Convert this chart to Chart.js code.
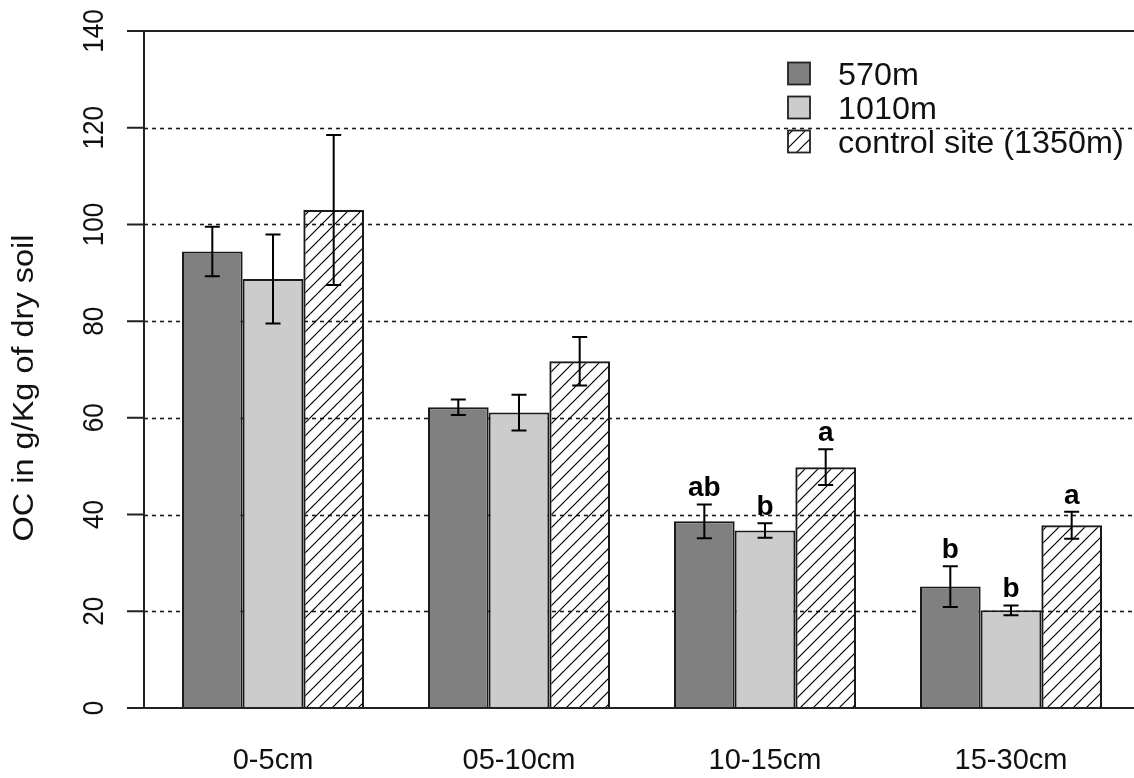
<!DOCTYPE html>
<html>
<head>
<meta charset="utf-8">
<script src="https://cdn.jsdelivr.net/npm/chart.js@4/dist/chart.umd.min.js"></script>
<style>
  html, body { margin: 0; padding: 0; background: #fff; }
  #wrap { width: 1134px; height: 778px; }
</style>
</head>
<body>
<div id="wrap"><canvas id="ocChart" width="1134" height="778"></canvas></div>
<script>
const categories = ["0-5cm", "05-10cm", "10-15cm", "15-30cm"];
const seriesNames = ["570m", "1010m", "control site (1350m)"];
const oc570 = [94.4, 62.2, 38.6, 25.1];
const err570 = [5.1, 1.6, 3.5, 4.2];
const oc1010 = [88.7, 61.1, 36.7, 20.2];
const err1010 = [9.2, 3.7, 1.5, 1.0];
const ocControl = [103.0, 71.7, 49.8, 37.8];
const errControl = [15.5, 5.0, 3.7, 2.8];
const letters570 = ["", "", "ab", "b"];
const letters1010 = ["", "", "b", "b"];
const lettersControl = ["", "", "a", "a"];
const yTicks = [0, 20, 40, 60, 80, 100, 120, 140];

const FONT = "'Liberation Sans', Arial, sans-serif";
const ink = "#111";

function makeHatch() {
  const size = 13;
  const c = document.createElement("canvas");
  c.width = size;
  c.height = size;
  const g = c.getContext("2d");
  g.strokeStyle = "#000";
  g.lineWidth = 1.2;
  g.beginPath();
  g.moveTo(-size, size * 2); g.lineTo(size * 2, -size);
  g.moveTo(-size, size); g.lineTo(size, -size);
  g.moveTo(0, size * 2); g.lineTo(size * 2, 0);
  g.stroke();
  return g.createPattern(c, "repeat");
}
const hatch = makeHatch();

// text with a stretch along its direction (the source image is not square-scaled)
function stretchText(ctx, text, x, y, angle, stretch) {
  ctx.save();
  ctx.translate(x, y);
  ctx.rotate(angle);
  ctx.scale(stretch, 1);
  ctx.fillText(text, 0, 0);
  ctx.restore();
}

// dotted grid, axis line, ticks and rotated labels (R base style)
const axesPlugin = {
  id: "rAxes",
  beforeDatasetsDraw(chart) {
    const ctx = chart.ctx;
    const y = chart.scales.y;
    const axisX = 144;
    ctx.save();
    ctx.strokeStyle = "#1a1a1a";
    ctx.lineWidth = 1.6;
    ctx.setLineDash([4, 4]);
    y.ticks.forEach((t) => {
      if (t.value === 0 || t.value === 140) return;
      const py = Math.round(y.getPixelForValue(t.value)) + 0.5;
      ctx.beginPath();
      ctx.moveTo(axisX, py);
      ctx.lineTo(chart.width, py);
      ctx.stroke();
    });
    ctx.restore();
  },
  afterDatasetsDraw(chart) {
    const ctx = chart.ctx;
    const y = chart.scales.y;
    const axisX = 144;
    ctx.save();
    ctx.strokeStyle = "#222";
    ctx.lineWidth = 2;
    const top = y.getPixelForValue(140);
    const bottom = y.getPixelForValue(0);
    ctx.beginPath();
    ctx.moveTo(axisX, top);
    ctx.lineTo(axisX, bottom);
    ctx.moveTo(127, top);
    ctx.lineTo(chart.width, top);
    ctx.moveTo(127, bottom);
    ctx.lineTo(chart.width, bottom);
    y.ticks.forEach((t) => {
      const py = y.getPixelForValue(t.value);
      ctx.moveTo(127, py);
      ctx.lineTo(axisX, py);
    });
    ctx.stroke();

    ctx.fillStyle = ink;
    ctx.font = "29px " + FONT;
    ctx.textAlign = "center";
    ctx.textBaseline = "alphabetic";
    y.ticks.forEach((t) => {
      stretchText(ctx, t.label, 103, y.getPixelForValue(t.value), -Math.PI / 2, 0.9);
    });

    ctx.font = "29px " + FONT;
    stretchText(ctx, "OC in g/Kg of dry soil", 33, 388, -Math.PI / 2, 1.12);
    ctx.restore();
  },
};

// error bars + significance letters
const errorPlugin = {
  id: "errBars",
  afterDatasetsDraw(chart) {
    const ctx = chart.ctx;
    const y = chart.scales.y;
    ctx.save();
    ctx.strokeStyle = "#000";
    ctx.lineWidth = 2;
    chart.data.datasets.forEach((ds, di) => {
      const meta = chart.getDatasetMeta(di);
      meta.data.forEach((bar, i) => {
        const v = ds.data[i];
        const e = ds.errors[i];
        const hi = y.getPixelForValue(v + e);
        const lo = y.getPixelForValue(v - e);
        ctx.beginPath();
        ctx.moveTo(bar.x, hi);
        ctx.lineTo(bar.x, lo);
        ctx.moveTo(bar.x - 7.5, hi);
        ctx.lineTo(bar.x + 7.5, hi);
        ctx.moveTo(bar.x - 7.5, lo);
        ctx.lineTo(bar.x + 7.5, lo);
        ctx.stroke();
        const letter = ds.letters[i];
        if (letter) {
          ctx.fillStyle = "#000";
          ctx.font = "bold 28px " + FONT;
          ctx.textAlign = "center";
          ctx.textBaseline = "alphabetic";
          ctx.fillText(letter, bar.x, hi - 8);
        }
      });
    });
    ctx.restore();
  },
};

// legend drawn at top right like R legend()
const legendPlugin = {
  id: "rLegend",
  afterDraw(chart) {
    const ctx = chart.ctx;
    ctx.save();
    chart.data.datasets.forEach((ds, i) => {
      const cy = 73.5 + i * 34;
      ctx.fillStyle = "#fff";
      ctx.fillRect(788, cy - 11, 22, 22);
      ctx.fillStyle = ds.backgroundColor;
      ctx.fillRect(788, cy - 11, 22, 22);
      ctx.strokeStyle = "#222";
      ctx.lineWidth = 1.8;
      ctx.strokeRect(788, cy - 11, 22, 22);
      ctx.fillStyle = ink;
      ctx.font = "30.5px " + FONT;
      ctx.textAlign = "left";
      ctx.textBaseline = "alphabetic";
      stretchText(ctx, ds.label, 838, cy + 11, 0, 1.06);
    });
    ctx.restore();
  },
};

new Chart(document.getElementById("ocChart"), {
  type: "bar",
  data: {
    labels: categories,
    datasets: [
      { label: seriesNames[0], data: oc570, errors: err570, letters: letters570,
        backgroundColor: "#808080", borderColor: "#1a1a1a", borderWidth: 2 },
      { label: seriesNames[1], data: oc1010, errors: err1010, letters: letters1010,
        backgroundColor: "#cccccc", borderColor: "#1a1a1a", borderWidth: 2 },
      { label: seriesNames[2], data: ocControl, errors: errControl, letters: lettersControl,
        backgroundColor: hatch, borderColor: "#1a1a1a", borderWidth: 2 },
    ],
  },
  options: {
    responsive: false,
    animation: false,
    layout: { padding: { left: 150, top: 31, right: 0, bottom: 0 } },
    datasets: { bar: { barPercentage: 1, categoryPercentage: 0.74 } },
    plugins: { legend: { display: false }, tooltip: { enabled: false } },
    scales: {
      x: {
        grid: { display: false, drawTicks: false },
        border: { display: false },
        ticks: { color: ink, font: { family: FONT, size: 29 }, padding: 36 },
        afterFit(scale) { scale.height = 70; },
      },
      y: {
        display: false,
        min: yTicks[0],
        max: yTicks[yTicks.length - 1],
        afterBuildTicks(scale) { scale.ticks = yTicks.map((v) => ({ value: v })); },
      },
    },
  },
  plugins: [axesPlugin, errorPlugin, legendPlugin],
});
</script>
</body>
</html>
